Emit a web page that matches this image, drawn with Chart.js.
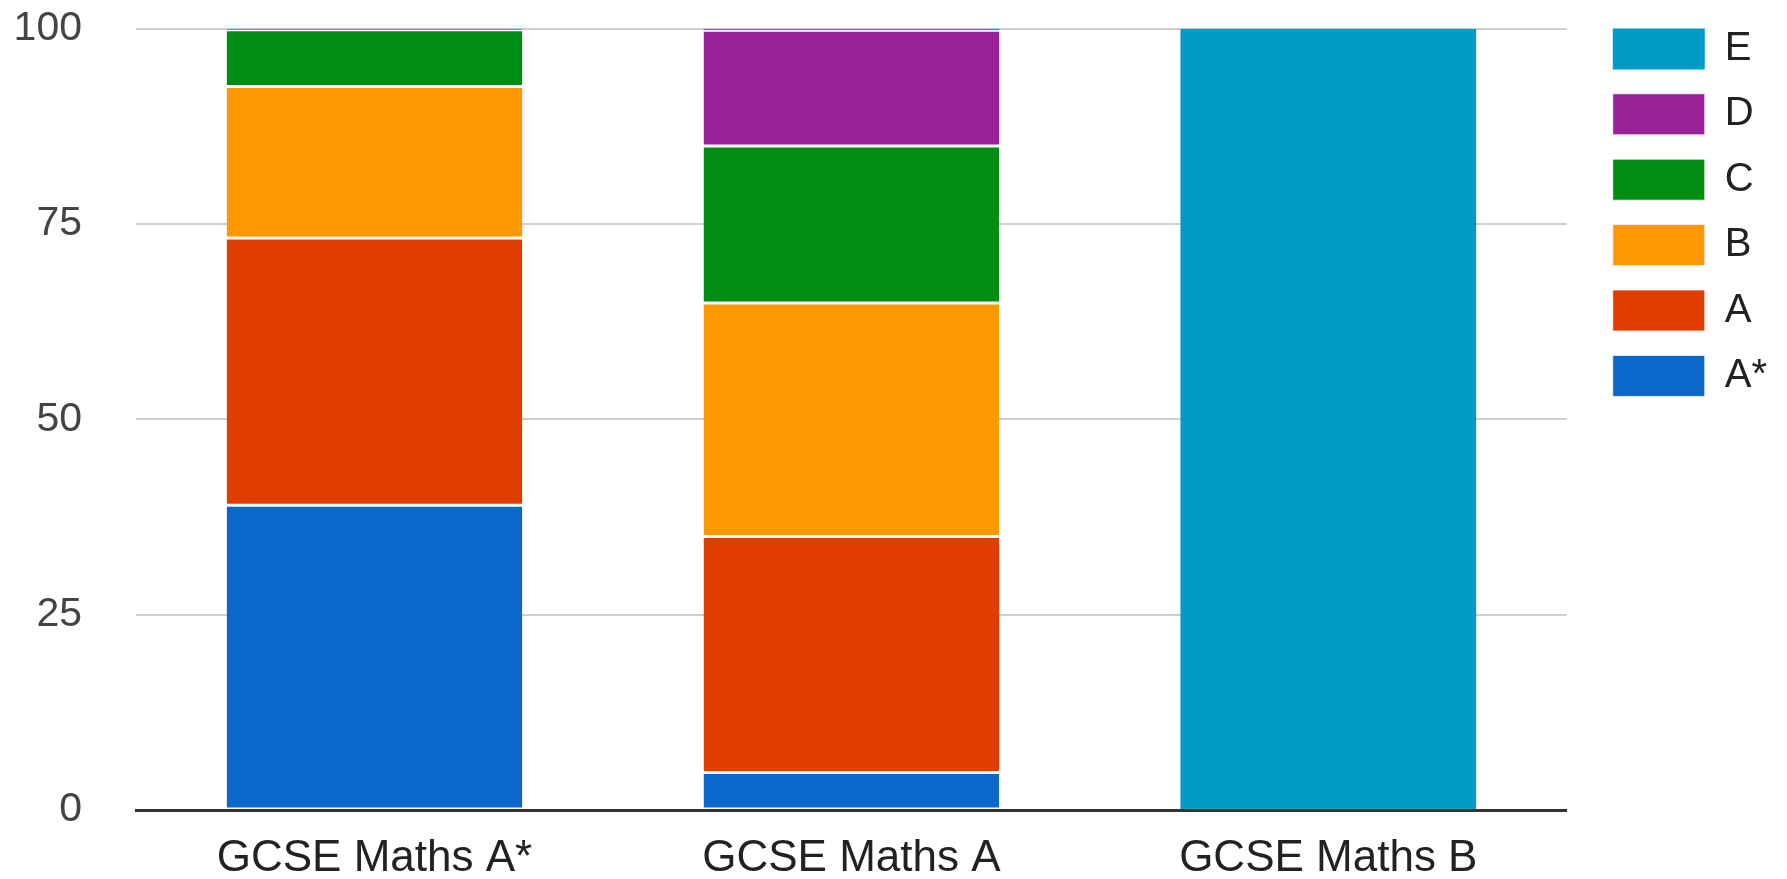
<!DOCTYPE html>
<html lang="en">
<head>
    <meta charset="UTF-8">
    <title>GCSE Maths grades</title>
    <script src="https://cdn.jsdelivr.net/npm/chart.js"></script>
    <style>
        body {
            margin: 0;
            background: white;
        }
        .chart-box {
            width: 1787px;
            height: 879px;
        }
    </style>
</head>
<body>
    <div class="chart-box">
        <canvas id="gradeChart"></canvas>
    </div>

    <script>
        // Categories and grade shares (percent)
        const courses = ['GCSE Maths A*', 'GCSE Maths A', 'GCSE Maths B'];
        const gradeNames = ['A*', 'A', 'B', 'C', 'D', 'E'];
        const gradeAStar = [39, 4.8, 0];
        const gradeA = [34.2, 30.2, 0];
        const gradeB = [19.4, 29.9, 0];
        const gradeC = [7.25, 20.1, 0];
        const gradeD = [0, 14.8, 0];
        const gradeE = [0.15, 0.2, 100];
        const yTicks = [0, 25, 50, 75, 100];

        const gradeColors = ['#0b67c9', '#e03d00', '#ff9700', '#008d12', '#99229a', '#009bc7'];
        const gradeValues = [gradeAStar, gradeA, gradeB, gradeC, gradeD, gradeE];

        const font = '"Liberation Sans", Arial, sans-serif';

        const datasets = gradeNames.map((name, i) => ({
            label: name,
            data: gradeValues[i],
            backgroundColor: gradeColors[i],
            borderColor: '#ffffff',
            borderWidth: name === 'E' ? 0 : {top: 1.5, bottom: 1.5, left: 0, right: 0},
            borderSkipped: false,
            categoryPercentage: 1,
            barPercentage: 0.62
        }));

        new Chart(document.getElementById('gradeChart'), {
            type: 'bar',
            data: {
                labels: courses,
                datasets: datasets
            },
            options: {
                responsive: true,
                maintainAspectRatio: false,
                animation: false,
                layout: {
                    padding: {top: 4, right: 10, bottom: 0, left: 0}
                },
                scales: {
                    x: {
                        stacked: true,
                        z: 1,
                        grid: {display: false, drawTicks: false},
                        border: {display: true, color: '#333333', width: 3},
                        ticks: {
                            color: '#222222',
                            padding: 22,
                            font: {family: font, size: 44}
                        },
                        afterFit: function(scale) {
                            scale.height = 69;
                        }
                    },
                    y: {
                        stacked: true,
                        min: 0,
                        max: 100,
                        afterBuildTicks: function(scale) {
                            scale.ticks = yTicks.map(v => ({value: v}));
                        },
                        grid: {
                            color: '#cfcfcf',
                            lineWidth: 2,
                            drawTicks: true,
                            tickLength: 54,
                            tickColor: 'rgba(0,0,0,0)'
                        },
                        border: {display: false},
                        ticks: {
                            color: '#444444',
                            padding: 0,
                            font: {family: font, size: 41, lineHeight: 1.4}
                        },
                        afterFit: function(scale) {
                            scale.width = 136;
                        }
                    },
                    // empty spacer between plot and legend
                    gap: {
                        position: 'right',
                        grid: {display: false, drawTicks: false},
                        border: {display: false},
                        ticks: {display: false},
                        afterFit: function(scale) {
                            scale.width = 21.6;
                        }
                    }
                },
                plugins: {
                    legend: {
                        position: 'right',
                        align: 'start',
                        reverse: true,
                        labels: {
                            boxWidth: 92,
                            boxHeight: 41,
                            padding: 24.4,
                            color: '#222222',
                            font: {family: font, size: 40}
                        }
                    },
                    tooltip: {enabled: false}
                }
            }
        });
    </script>
</body>
</html>
